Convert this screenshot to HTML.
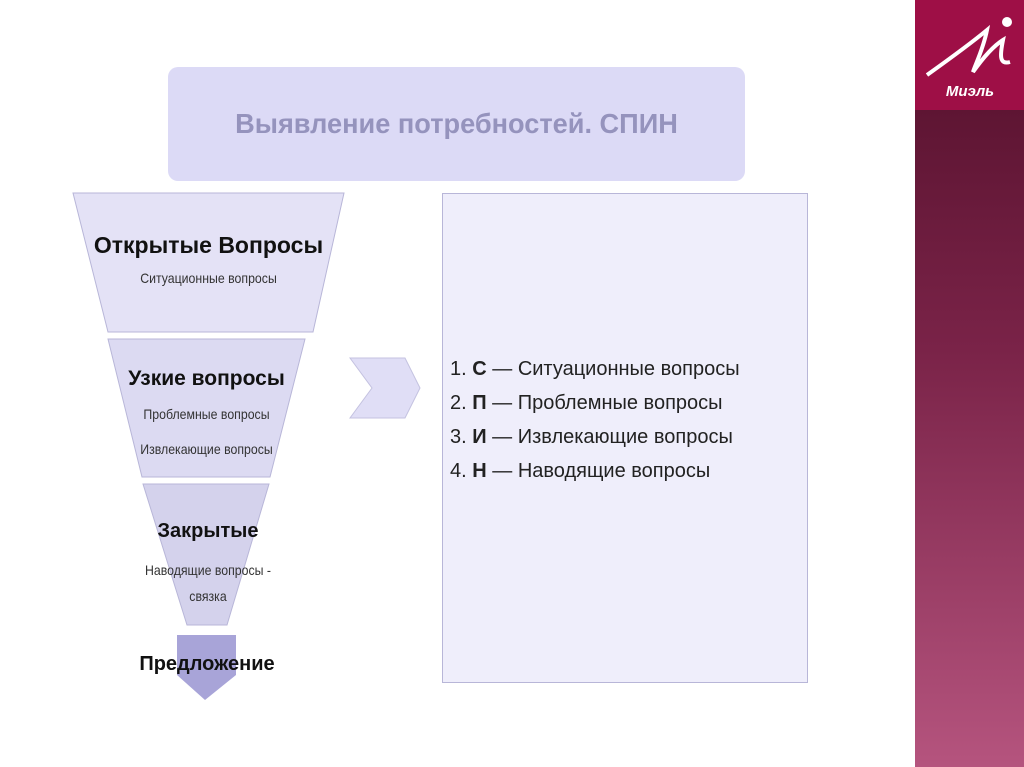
<!DOCTYPE html>
<html><head><meta charset="utf-8"><style>
body{margin:0;width:1024px;height:767px;background:#fff;position:relative;overflow:hidden;font-family:"Liberation Sans","Noto Sans CJK SC",sans-serif}
.abs{position:absolute}
.sm{font-size:14px;color:#333;transform:scaleX(0.88)}
</style></head><body>
<div class="abs" style="left:915px;top:0;width:109px;height:767px;background:linear-gradient(#5e1533 110px,#7a2348 350px,#b5547e 767px)"></div>
<div class="abs" style="left:915px;top:0;width:109px;height:110px;background:#9e0f46"></div>
<svg class="abs" style="left:915px;top:0" width="109" height="110">
<path d="M12 75 C40 55 60 40 72 30 C68 50 60 65 58 72 C70 55 80 45 88 40 C85 55 84 65 95 62" stroke="#fff" stroke-width="4" fill="none"/>
<circle cx="92" cy="22" r="5" fill="#fff"/>
<text x="55" y="96" fill="#fff" font-size="15" font-weight="bold" font-style="italic" text-anchor="middle">Миэль</text>
</svg>
<div class="abs" style="left:168px;top:67px;width:577px;height:114px;background:#dcdaf6;border-radius:10px"></div>
<div class="abs" style="left:168px;top:108px;width:577px;text-align:center;font-size:28px;font-weight:bold;color:#9593bd;transform:scaleX(0.97)">Выявление потребностей. СПИН</div>
<div class="abs" style="left:442px;top:193px;width:364px;height:488px;background:#efeefb;border:1px solid #b8b6d8"></div>
<svg class="abs" style="left:0;top:0" width="915" height="767">
<polygon points="73,193 344,193 313,332 108,332" fill="#e4e2f6" stroke="#b8b6d8"/>
<polygon points="108,339 305,339 270,477 142,477" fill="#dcdaf2" stroke="#b8b6d8"/>
<polygon points="143,484 269,484 227,625 187,625" fill="#d4d2ec" stroke="#b8b6d8"/>
<polygon points="177,635 236,635 236,675 205,700 177,675" fill="#a8a4d8"/>
<polygon points="350,358 405,358 420,388 405,418 350,418 372,388" fill="#e0def6" stroke="#c4c2e0"/>
</svg>
<div class="abs" style="left:73px;top:232px;width:271px;text-align:center;font-size:23px;font-weight:bold;color:#111">Открытые Вопросы</div>
<div class="abs sm" style="left:73px;top:270px;width:271px;text-align:center">Ситуационные вопросы</div>
<div class="abs" style="left:108px;top:367px;width:197px;text-align:center;font-size:21px;font-weight:bold;color:#111">Узкие вопросы</div>
<div class="abs sm" style="left:108px;top:406px;width:197px;text-align:center">Проблемные вопросы</div>
<div class="abs sm" style="left:108px;top:441px;width:197px;text-align:center">Извлекающие вопросы</div>
<div class="abs" style="left:110px;top:520px;width:196px;text-align:center;font-size:20px;font-weight:bold;color:#111">Закрытые</div>
<div class="abs sm" style="left:110px;top:557px;width:196px;text-align:center;line-height:26px">Наводящие вопросы -<br>связка</div>
<div class="abs" style="left:107px;top:653px;width:200px;text-align:center;font-size:20px;font-weight:bold;color:#111">Предложение</div>
<div class="abs" style="left:450px;top:352px;font-size:20px;color:#222;line-height:34px">
1. <b>С</b> — Ситуационные вопросы<br>2. <b>П</b> — Проблемные вопросы<br>3. <b>И</b> — Извлекающие вопросы<br>4. <b>Н</b> — Наводящие вопросы</div>
</body></html>
